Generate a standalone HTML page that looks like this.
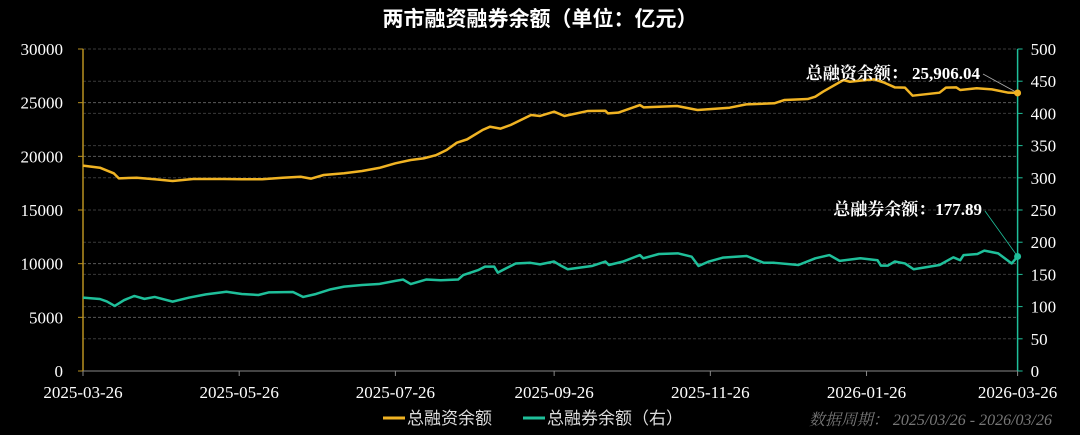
<!DOCTYPE html>
<html><head><meta charset="utf-8"><style>
html,body{margin:0;padding:0;background:#000;width:1080px;height:435px;overflow:hidden}
svg{display:block}
text{font-family:"Liberation Serif","Noto Serif CJK SC","Noto Sans CJK SC",serif}
</style></head><body>
<svg id="chart" width="1080" height="435">
<text x="540" y="26" text-anchor="middle" fill="#fff" font-size="21" font-weight="bold" style="font-family:'Liberation Sans','Noto Sans CJK SC',sans-serif">两市融资融券余额（单位：亿元）</text>
<g id="grid"></g><g id="axes"></g><g id="series"></g><g id="ann"></g>
<g>
<line x1="383" y1="418" x2="405" y2="418" stroke="#f0b323" stroke-width="3"/>
<text x="407" y="424" fill="#ddd" font-size="17" style="font-family:'Liberation Sans','Noto Sans CJK SC',sans-serif">总融资余额</text>
<line x1="523" y1="418" x2="545" y2="418" stroke="#1fbf9a" stroke-width="3"/>
<text x="547" y="424" fill="#ddd" font-size="17" style="font-family:'Liberation Sans','Noto Sans CJK SC',sans-serif">总融券余额（右）</text>
</g>
<text x="1052" y="425" text-anchor="end" fill="#777" font-size="16" font-style="italic">数据周期： 2025/03/26 - 2026/03/26</text>
</svg>
<script>
const xTickLabels=["2025-03-26","2025-05-26","2025-07-26","2025-09-26","2025-11-26","2026-01-26","2026-03-26"];
const xTickDays=[0,61,122,184,245,306,365];
const leftTicks=[0,5000,10000,15000,20000,25000,30000];
const rightTicks=[0,50,100,150,200,250,300,350,400,450,500];
const finDays=[0,6.6,12,14,21,28,35,43,55,62,70,78,85,89,94,102,109,116,122,128,133,138,142,146,150,156,159,163,167,171,175,178.5,184,188,197,204,205,209,217.5,219,232,240,252.5,259,270,274,283,286,289,297,299.5,306,309,313,317,321,324,334.5,337,341,342.6,349,355,361.4,365];
const finVals=[19130,18940,18420,17950,18010,17860,17700,17890,17890,17860,17860,18010,18100,17920,18260,18420,18630,18940,19350,19660,19810,20120,20590,21270,21580,22450,22760,22580,22920,23380,23850,23760,24160,23760,24220,24250,24000,24070,24780,24560,24690,24320,24530,24840,24940,25250,25340,25560,26020,27110,26950,27110,27170,26860,26430,26400,25650,25930,26400,26430,26180,26340,26240,25930,25906.04];
const slDays=[0,6.6,9.3,12.4,16,20,24,28,35,41.5,48,56,62,68.5,72.5,82,86,91,96.7,102,109,115.5,122,125,128,134,139.7,146.5,148.5,154.5,157,160.6,162,165,169,174.7,178.5,184,186.6,189.3,198.7,204,205.4,210.8,217.5,218.8,224.9,232.3,237.7,240.4,244.4,249.8,259.2,265.9,270,279.4,286,291.5,295.5,303.6,310.3,311.6,314.3,317,321,324.4,334.5,339.9,342.6,343.9,349.3,352,357.4,361.4,362.7,365];
const slVals=[113.9,111.8,108,101,110,116.5,112,115,107.7,114,119,123,119.6,118,122,122.7,115,119.6,126.8,131,133.5,135,140,142,135,142,141,142,149,157,162,162,152.7,159,167,168,165.6,170,163.6,158,163,170,164.6,169.8,180,175,181.7,182.7,177.5,163,170,176,178.6,168,168,164.6,175,180,171,175,172,163.6,163.6,170,167,158,164.6,176.5,172,180,181.7,186.9,182.7,170.8,167,177.89];

const NS="http://www.w3.org/2000/svg";
const L=83,R=1017.6,T=49,B=371;
const xS=d=>L+d/365*(R-L);
const yL=v=>B-v/30000*(B-T);
const yR=v=>B-v/500*(B-T);
function mk(tag,attrs,parent){const e=document.createElementNS(NS,tag);for(const k in attrs)e.setAttribute(k,attrs[k]);parent.appendChild(e);return e;}
const grid=document.getElementById('grid'),axes=document.getElementById('axes'),series=document.getElementById('series'),ann=document.getElementById('ann');
leftTicks.forEach(v=>{
 const g=mk('line',{x1:L,x2:R,y1:yL(v),y2:yL(v),stroke:'#5a5a5a','stroke-dasharray':'3,2','stroke-width':1},grid);
 
 
 mk('line',{x1:L-5,x2:L,y1:yL(v),y2:yL(v),stroke:'#b8901f'},axes);
 const t=mk('text',{x:L-20,y:yL(v)+6,'text-anchor':'end',fill:'#fff','font-size':17},axes);
 t.textContent=v;
 
 
});
rightTicks.forEach(v=>{
 const g=mk('line',{x1:L,x2:R,y1:yR(v),y2:yR(v),stroke:'#3a3a3a','stroke-dasharray':'3,2','stroke-width':1},grid);
 
 
 mk('line',{x1:R,x2:R+5,y1:yR(v),y2:yR(v),stroke:'#1fbf9a'},axes);
 const t=mk('text',{x:R+13,y:yR(v)+6,fill:'#fff','font-size':17},axes);
 t.textContent=v;
 
 
});
const la=mk('line',{x1:L,x2:L,y1:T,y2:B,stroke:'#b8901f','stroke-width':1.5},axes);


const ra=mk('line',{x1:R,x2:R,y1:T,y2:B,stroke:'#1fbf9a','stroke-width':1.5},axes);


const xa=mk('line',{x1:L,x2:R,y1:B,y2:B,stroke:'#888','stroke-width':1},axes);


xTickDays.forEach((d,i)=>{
 mk('line',{x1:xS(d),x2:xS(d),y1:B,y2:B+5,stroke:'#888'},axes);
 const t=mk('text',{x:xS(d),y:B+27,'text-anchor':'middle',fill:'#fff','font-size':17},axes);
 t.textContent=xTickLabels[i];
 
 
});
const fp=mk('polyline',{points:finDays.map((d,i)=>xS(d)+','+yL(finVals[i])).join(' '),fill:'none',stroke:'#f0b323','stroke-width':2.5,'stroke-linejoin':'round'},series);


const sp=mk('polyline',{points:slDays.map((d,i)=>xS(d)+','+yR(slVals[i])).join(' '),fill:'none',stroke:'#1fbf9a','stroke-width':2.5,'stroke-linejoin':'round'},series);


const fl=finVals.length-1, sl=slVals.length-1;
const fx=xS(finDays[fl]),fy=yL(finVals[fl]),sx=xS(slDays[sl]),sy=yR(slVals[sl]);
mk('line',{x1:983,y1:74,x2:fx,y2:fy,stroke:'#aaa','stroke-width':0.8},ann);
const fd=mk('circle',{cx:fx,cy:fy,r:3.5,fill:'#f0b323'},ann);


const ft=mk('text',{x:980,y:79,'text-anchor':'end',fill:'#fff','font-size':17,'font-weight':'bold'},ann);
ft.textContent='总融资余额：  '+finVals[fl].toLocaleString('en-US',{minimumFractionDigits:2});


mk('line',{x1:985,y1:211,x2:sx,y2:sy,stroke:'#1fbf9a','stroke-width':0.8},ann);
const sd=mk('circle',{cx:sx,cy:sy,r:3.5,fill:'#1fbf9a'},ann);


const st=mk('text',{x:982,y:215,'text-anchor':'end',fill:'#fff','font-size':17,'font-weight':'bold'},ann);
st.textContent='总融券余额：'+slVals[sl].toFixed(2);


</script>
</body></html>
